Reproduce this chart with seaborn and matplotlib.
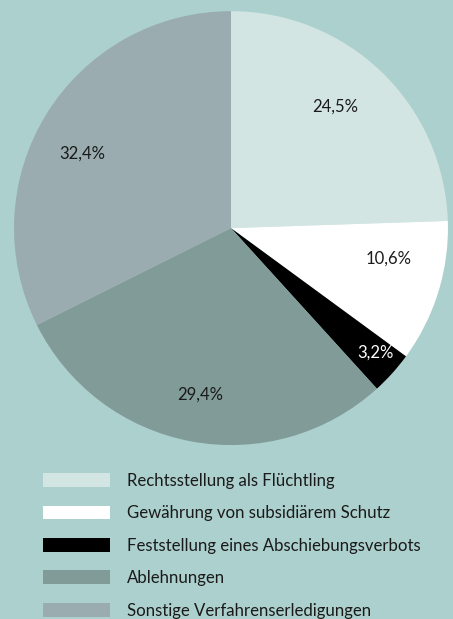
import numpy as np
import matplotlib
matplotlib.use('Agg')
import matplotlib.pyplot as plt
from matplotlib.patches import Patch
import seaborn as sns

# data
labels = ['Rechtsstellung als Flüchtling',
          'Gewährung von subsidiärem Schutz',
          'Feststellung eines Abschiebungsverbots',
          'Ablehnungen',
          'Sonstige Verfahrenserledigungen']
shares = [24.5, 10.6, 3.2, 29.4, 32.4]
colors = ['#d2e5e3', '#ffffff', '#000000', '#819b99', '#9aacaf']
text_colors = ['#1a1a1a', '#1a1a1a', '#ffffff', '#1a1a1a', '#1a1a1a']
# label placement: radius fraction and angle nudge (deg)
label_dist = [0.74, 0.74, 0.88, 0.78, 0.765]
label_shift = [3.4, 6.2, 1.3, 0.0, 5.0]

bg = '#acd0cd'

sns.set_style('white')
plt.rcParams['font.family'] = ['Lato', 'DejaVu Sans']

fig = plt.figure(figsize=(4.53, 6.19), dpi=100, facecolor=bg)
ax = fig.add_axes([0.0309, 0.281, 0.958, 0.701])
ax.set_facecolor(bg)

wedges, _ = ax.pie(shares, colors=colors, startangle=90, counterclock=False,
                   wedgeprops=dict(linewidth=0))
ax.set_aspect('equal')
ax.set_xlim(-1, 1)
ax.set_ylim(-1, 1)
ax.axis('off')

for w, v, c, d, s in zip(wedges, shares, text_colors, label_dist, label_shift):
    ang = np.deg2rad((w.theta1 + w.theta2) / 2 + s)
    ax.text(d * np.cos(ang), d * np.sin(ang), f'{v:.1f}%'.replace('.', ','),
            ha='center', va='center', fontsize=12, color=c)

handles = [Patch(facecolor=c, edgecolor='none') for c in colors]
fig.legend(handles, labels, loc='upper left', bbox_to_anchor=(0.08, 0.247),
           frameon=False, fontsize=12.1, handlelength=3.98, handleheight=0.9,
           handletextpad=1.0, labelspacing=0.98, borderaxespad=0,
           labelcolor='#1a1a1a')

fig.savefig('out.png', dpi=100, facecolor=bg)
